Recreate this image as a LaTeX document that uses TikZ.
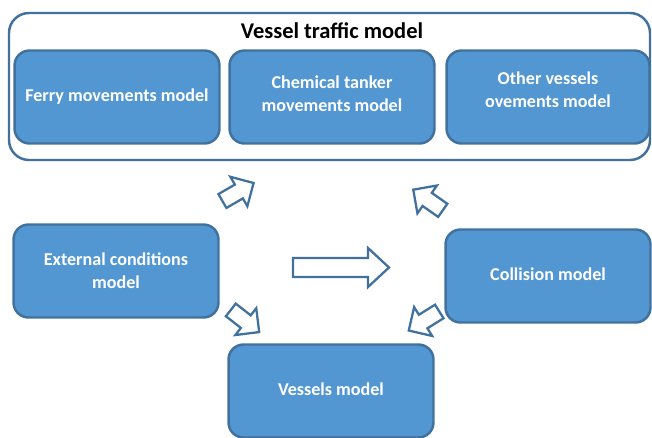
\documentclass[tikz,border=0pt]{standalone}
\usepackage{fontspec}
\setmainfont{Carlito}
\definecolor{boxfill}{HTML}{5296D2}
\definecolor{boxline}{HTML}{41719C}
\tikzset{
    smallarrow/.pic = {\draw [draw = boxline, line width = 1.3pt, fill = white, line join = miter]
        (-18, -8) -- (1, -8) -- (1, -17) -- (18, 0) -- (1, 17) -- (1, 8) -- (-18, 8) -- cycle;}
}
\begin{document}
\begin{tikzpicture}[x=0.02cm, y=-0.02cm,
    model/.style = {draw = boxline, line width = 1.4pt, fill = boxfill, rounded corners = 0.3cm,
                    minimum width = 4.1cm, minimum height = 1.86cm,
                    text = white, align = center, font = \fontsize{10.3}{13}\selectfont\bfseries}]
    \useasboundingbox (0, 0) rectangle (652, 437);
    \draw [draw = boxline, line width = 1.4pt, rounded corners = 0.4cm] (9, 13) rectangle (650, 160);
    \node [font = \fontsize{12.8}{15}\selectfont\bfseries] at (332, 31) (traffic) {Vessel traffic model};
	\node [model] at (117, 97) (ferry) {Ferry movements model};
	\node [model, text depth = 4pt] at (332, 97) (tanker) {Chemical tanker\\movements model};
	\node [model, minimum width = 4.06cm, text depth = 8.5pt] at (548, 97) (other) {Other vessels\\ovements model};
	\node [model] at (116, 271) (external) {External conditions\\model};
	\node [model, text depth = 2pt] at (548, 276) (collision) {Collision model};
	\node [model, text depth = 2pt] at (331, 391) (vessels) {Vessels model};
        % block arrows
        \draw [draw = boxline, line width = 1.3pt, fill = white, line join = miter]
            (293, 258) -- (368, 258) -- (368, 248) -- (389, 267.5) -- (368, 287) -- (368, 277) -- (293, 277) -- cycle;
        \pic [rotate = 30] at (238, 192) {smallarrow};
        \pic [rotate = 145] at (428, 200) {smallarrow};
        \pic [rotate = -38] at (245, 321) {smallarrow};
        \pic [rotate = 212] at (424, 321) {smallarrow};
\end{tikzpicture}
\end{document}
